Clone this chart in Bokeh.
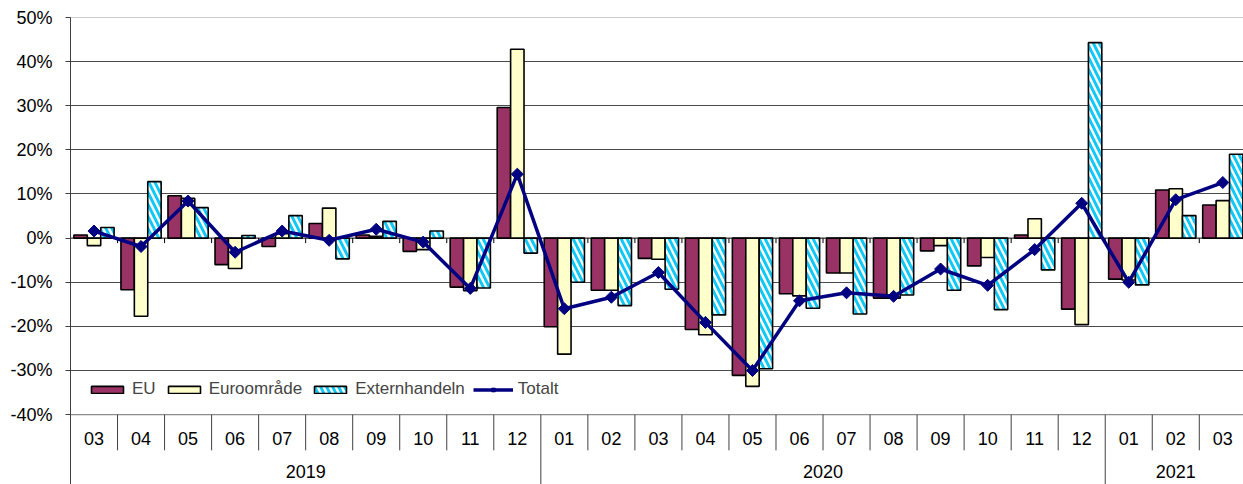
from bokeh.plotting import figure
from bokeh.models import Range1d, FixedTicker, PrintfTickFormatter, Span, Legend, LegendItem, ColumnDataSource
from bokeh.core.properties import value
from bokeh.embed import file_html
from bokeh.resources import INLINE

months = ["03", "04", "05", "06", "07", "08", "09", "10", "11", "12",
          "01", "02", "03", "04", "05", "06", "07", "08", "09", "10", "11", "12",
          "01", "02", "03"]
years = ["2019", "2020", "2021"]
year_counts = [10, 12, 3]

eu = [0.7, -11.7, 9.6, -6.0, -1.9, 3.3, 0.7, -3.0, -11.1, 29.6,
      -20.1, -11.8, -4.6, -20.7, -31.1, -12.6, -7.9, -13.6, -2.9, -6.3, 0.7, -16.1,
      -9.3, 10.9, 7.5]
euro = [-1.7, -17.7, 9.0, -6.9, 1.0, 6.8, 0.4, -2.6, -11.9, 42.8,
        -26.3, -11.8, -4.8, -21.9, -33.6, -13.1, -7.9, -13.6, -1.7, -4.4, 4.4, -19.6,
        -9.5, 11.2, 8.5]
ext = [2.4, 12.8, 6.9, 0.6, 5.1, -4.7, 3.8, 1.6, -11.3, -3.4,
       -10.0, -15.3, -11.6, -17.4, -29.6, -15.9, -17.2, -12.9, -11.8, -16.2, -7.2, 44.3,
       -10.6, 5.1, 19.0]
totalt = [1.6, -1.9, 8.4, -3.2, 1.6, -0.5, 2.0, -0.9, -11.4, 14.5,
          -16.0, -13.4, -7.8, -19.1, -30.0, -14.2, -12.4, -13.2, -7.0, -10.7, -2.6, 7.9,
          -10.0, 8.7, 12.6]

FONT = value("Liberation Sans")
FS = value("18px")

n = len(months)
idx = list(range(n))
bw = 0.285
centers = [i + 0.5 for i in idx]

p = figure(width=1243, height=484, output_backend="svg", toolbar_location=None,
           x_range=Range1d(0, 24.94), y_range=Range1d(-55.84, 50),
           x_axis_type=None, min_border_left=70, min_border_right=0,
           min_border_top=17, min_border_bottom=0)
p.outline_line_color = None
p.background_fill_color = "white"

# y axis
p.yaxis.ticker = FixedTicker(ticks=list(range(-40, 51, 10)))
p.yaxis.formatter = PrintfTickFormatter(format="%d%%")
p.yaxis.major_label_text_font = "Liberation Sans"
p.yaxis.major_label_text_font_size = "18px"
p.yaxis.major_label_text_color = "black"
p.yaxis.major_tick_out = 5
p.yaxis.major_tick_in = 0
p.yaxis.minor_tick_out = 0
p.yaxis.minor_tick_in = 0
p.yaxis.axis_line_color = "#404040"
p.yaxis.major_tick_line_color = "#404040"
p.yaxis.major_label_standoff = 13

p.ygrid.ticker = FixedTicker(ticks=[-30, -20, -10, 10, 20, 30, 40])
p.ygrid.grid_line_color = "#4a4a4a"
p.ygrid.level = "underlay"

p.add_layout(Span(location=50, dimension="width", line_color="#9a9a9a", line_width=1, level="underlay"))
p.add_layout(Span(location=-40, dimension="width", line_color="#8c8c8c", line_width=1.3, level="underlay"))
p.add_layout(Span(location=0, dimension="width", line_color="black", line_width=1, level="underlay"))

src = ColumnDataSource(dict(
    x_eu=[c - bw for c in centers], x_euro=centers, x_ext=[c + bw for c in centers],
    eu=eu, euro=euro, ext=ext, x=centers, tot=totalt))

r_eu = p.vbar(x="x_eu", top="eu", bottom=0, width=bw, source=src,
              fill_color="#993366", line_color="black", line_width=1.6)
r_euro = p.vbar(x="x_euro", top="euro", bottom=0, width=bw, source=src,
                fill_color="#FFFFCC", line_color="black", line_width=1.6)
r_ext = p.vbar(x="x_ext", top="ext", bottom=0, width=bw, source=src,
               fill_color="white", line_color="black", line_width=1.6,
               hatch_pattern="left_diagonal_line", hatch_color="#10C8F8",
               hatch_weight=3, hatch_scale=12)

# small ticks at zero line
tick_x = [float(i) for i in range(1, n)]
p.segment(x0=tick_x, x1=tick_x, y0=[0] * len(tick_x), y1=[-1.13] * len(tick_x),
          line_color="black", line_width=1)

r_line = p.line(x="x", y="tot", source=src, line_color="#000080", line_width=3.5)
r_pts = p.scatter(x="x", y="tot", source=src, marker="square", angle=0.785398,
                  size=8.5, fill_color="#000080", line_color="#000080")

# category axis table
year_bounds = []
acc = 0
for c in year_counts:
    acc += c
    year_bounds.append(acc)
month_sep = [float(i) for i in range(1, n) if i not in year_bounds]
p.segment(x0=month_sep, x1=month_sep, y0=[-40] * len(month_sep), y1=[-48.1] * len(month_sep),
          line_color="#404040", line_width=1)
ysep = [float(b) for b in year_bounds[:-1]]
p.segment(x0=ysep, x1=ysep, y0=[-40] * len(ysep), y1=[-55.84] * len(ysep),
          line_color="#404040", line_width=1)

p.text(x=centers, y=[-45.4] * n, text=months, text_font=FONT, text_font_size=FS,
       text_align="center", text_baseline="middle", text_color="black")

year_x = []
start = 0
for c in year_counts:
    year_x.append(start + c / 2.0)
    start += c
p.text(x=year_x, y=[-53.0] * len(years), text=years, text_font=FONT, text_font_size=FS,
       text_align="center", text_baseline="middle", text_color="black")

legend = Legend(items=[
    LegendItem(label="EU", renderers=[r_eu]),
    LegendItem(label="Euroområde", renderers=[r_euro]),
    LegendItem(label="Externhandeln", renderers=[r_ext]),
    LegendItem(label="Totalt", renderers=[r_line, r_pts]),
], orientation="horizontal", location=(17, 85), padding=0, margin=0, spacing=8,
    label_standoff=5, glyph_width=40, glyph_height=9,
    label_text_font="Liberation Sans", label_text_font_size="17px",
    background_fill_alpha=0, border_line_alpha=0)
p.add_layout(legend)

open("out.html", "w").write(file_html(p, INLINE))
